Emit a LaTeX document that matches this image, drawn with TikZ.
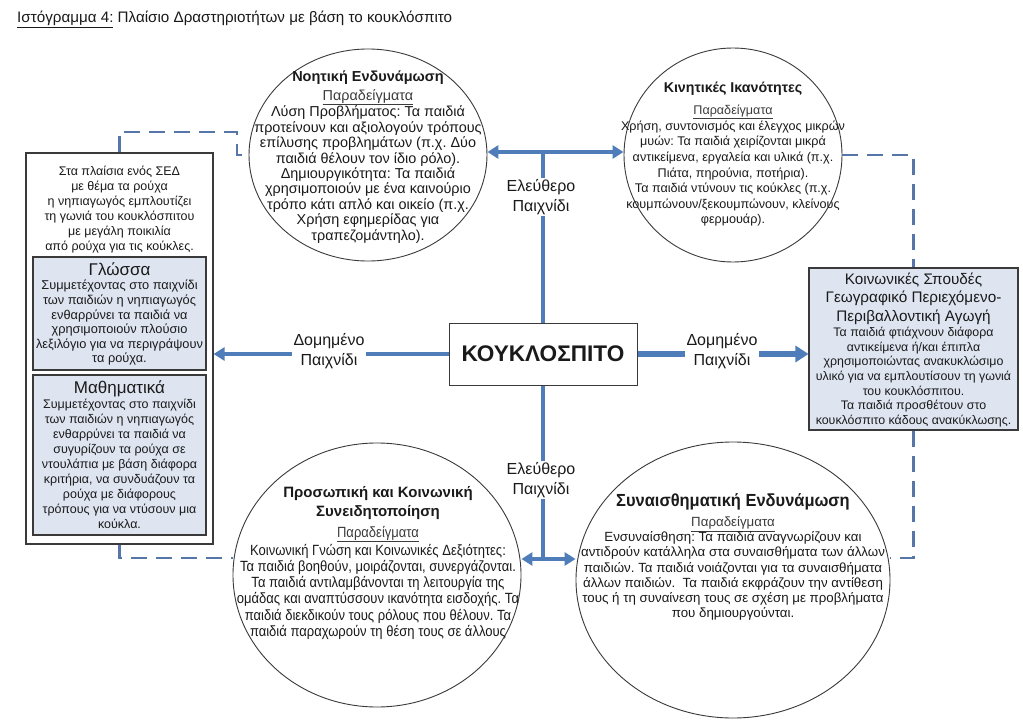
\documentclass[tikz,border=0pt]{standalone}
\usepackage{fontspec}
\setmainfont{Liberation Sans}
\newfontfamily\narrowfont[FakeStretch=0.88]{Liberation Sans}
\newfontfamily\semifont[FakeStretch=0.94]{Liberation Sans}
\usetikzlibrary{arrows.meta,shapes.geometric}
\definecolor{conn}{HTML}{4F7DBA}
\definecolor{dashc}{HTML}{5676AA}
\definecolor{boxfill}{HTML}{DEE5F1}
\definecolor{edge}{HTML}{3A3A3A}
\definecolor{txt}{HTML}{1A1A1A}
\definecolor{sub}{HTML}{3C3C3C}
\newcommand{\exlabel}{{\color{sub}\underline{Παραδείγματα}}}
\frenchspacing
\tikzset{
  circ/.style={ellipse, draw=edge, line width=0.9, inner sep=0},
  bodytext/.style={align=center, text=txt, inner sep=0, font=\fontsize{12.6}{15.3}\selectfont},
  narrowtext/.style={align=center, text=txt, inner sep=0, font=\narrowfont\fontsize{14.8}{16.2}\selectfont},
  lbox/.style={draw=edge, line width=1.1, fill=white, inner sep=0},
  ibox/.style={draw=edge, line width=1.1, fill=boxfill, inner sep=0},
  conline/.style={draw=conn, line width=3.6},
  tip/.style={-{Triangle[length=11,width=13]}},
  dtip/.style={{Triangle[length=11,width=13]}-{Triangle[length=11,width=13]}},
  dashl/.style={draw=dashc, line width=2.6, dash pattern=on 16 off 9},
  lab/.style={fill=white, align=center, inner sep=1.5, text=txt, font=\fontsize{16}{20}\selectfont},
}
\begin{document}
\begin{tikzpicture}[x=1pt,y=-1pt]
\useasboundingbox (0,0) rectangle (1023,725);
\fill[white] (0,0) rectangle (1023,725);

% title
\node[anchor=west, inner sep=0, text=txt, font=\fontsize{15.2}{17}\selectfont] (title) at (17,19)
  {\underline{Ιστόγραμμα 4:} Πλαίσιο Δραστηριοτήτων με βάση το κουκλόσπιτο};

% ellipses
\node[circ, minimum width=238, minimum height=212] (TL) at (368,155) {};
\node[circ, minimum width=218, minimum height=214] (TR) at (733,155) {};
\node[circ, minimum width=288, minimum height=264] (BL) at (377,575) {};
\node[circ, minimum width=314, minimum height=276] (BR) at (733,580) {};

% centre
\node[draw=edge, line width=1, minimum width=188, minimum height=62, inner sep=0,
  font=\bfseries\fontsize{22.6}{26}\selectfont, text=txt] (K) at (543,354) {ΚΟΥΚΛΟΣΠΙΤΟ};

% left box
\node[lbox, minimum width=187, minimum height=391] (LB) at (119.5,348.5) {};
\node[ibox, minimum width=173, minimum height=113] (LG) at (119.5,313.5) {};
\node[ibox, minimum width=173, minimum height=160] (LM) at (119.5,455) {};
\node[bodytext, font=\fontsize{12.5}{15}\selectfont] (LBt) at (119.5,210)
  {Στα πλαίσια ενός ΣΕΔ\\με θέμα τα ρούχα\\η νηπιαγωγός εμπλουτίζει\\τη γωνιά του κουκλόσπιτου\\με μεγάλη ποικιλία\\από ρούχα για τις κούκλες.};
\node[bodytext, font=\fontsize{12.8}{14.6}\selectfont] (LGt) at (119.5,314)
  {{\fontsize{17}{18}\selectfont Γλώσσα}\\Συμμετέχοντας στο παιχνίδι\\των παιδιών η νηπιαγωγός\\ενθαρρύνει τα παιδιά να\\χρησιμοποιούν πλούσιο\\λεξιλόγιο για να περιγράψουν\\τα ρούχα.};
\node[bodytext, font=\fontsize{12.5}{15}\selectfont] (LMt) at (119.5,455)
  {{\fontsize{17}{18}\selectfont Μαθηματικά}\\Συμμετέχοντας στο παιχνίδι\\των παιδιών η νηπιαγωγός\\ενθαρρύνει τα παιδιά να\\συγυρίζουν τα ρούχα σε\\ντουλάπια με βάση διάφορα\\κριτήρια, να συνδυάζουν τα\\ρούχα με διάφορους\\τρόπους για να ντύσουν μια\\κούκλα.};

% right box
\node[ibox, minimum width=209, minimum height=162] (RB) at (913.5,349) {};
\node[bodytext, font=\fontsize{12.4}{14.6}\selectfont] (RBt) at (913.5,350)
  {{\fontsize{15.3}{18}\selectfont Κοινωνικές Σπουδές}\\[3pt]{\fontsize{15.3}{18}\selectfont Γεωγραφικό Περιεχόμενο-}\\[3pt]{\fontsize{15.3}{18}\selectfont Περιβαλλοντική Αγωγή}\\[1pt]Τα παιδιά φτιάχνουν διάφορα\\αντικείμενα ή/και έπιπλα\\χρησιμοποιώντας ανακυκλώσιμο\\υλικό για να εμπλουτίσουν τη γωνιά\\του κουκλόσπιτου.\\Τα παιδιά προσθέτουν στο\\κουκλόσπιτο κάδους ανακύκλωσης.};

% circle texts
\node[bodytext, font=\fontsize{14.4}{15.4}\selectfont] (TLt) at (368,157)
  {{\bfseries\fontsize{14.5}{17}\selectfont Νοητική Ενδυνάμωση}\\[3pt]\exlabel\\Λύση Προβλήματος: Τα παιδιά\\προτείνουν και αξιολογούν τρόπους\\επίλυσης προβλημάτων (π.χ. Δύο\\παιδιά θέλουν τον ίδιο ρόλο).\\Δημιουργικότητα: Τα παιδιά\\χρησιμοποιούν με ένα καινούριο\\τρόπο κάτι απλό και οικείο (π.χ.\\Χρήση εφημερίδας για\\τραπεζομάντηλο).};
\node[bodytext, font=\fontsize{12.6}{15.6}\selectfont] (TRt) at (733,154)
  {{\bfseries\fontsize{14.2}{17}\selectfont Κινητικές Ικανότητες}\\[7pt]\exlabel\\Χρήση, συντονισμός και έλεγχος μικρών\\μυών: Τα παιδιά χειρίζονται μικρά\\αντικείμενα, εργαλεία και υλικά (π.χ.\\Πιάτα, πηρούνια, ποτήρια).\\Τα παιδιά ντύνουν τις κούκλες (π.χ.\\κουμπώνουν/ξεκουμπώνουν, κλείνους\\φερμουάρ).};
\node[narrowtext] (BLt) at (378,563)
  {{\rmfamily\bfseries\fontsize{15}{19}\selectfont Προσωπική και Κοινωνική}\\[3pt]{\rmfamily\bfseries\fontsize{15}{19}\selectfont Συνειδητοποίηση}\\[4pt]\exlabel\\[1pt]Κοινωνική Γνώση και Κοινωνικές Δεξιότητες:\\Τα παιδιά βοηθούν, μοιράζονται, συνεργάζονται.\\Τα παιδιά αντιλαμβάνονται τη λειτουργία της\\ομάδας και αναπτύσσουν ικανότητα εισδοχής. Τα\\παιδιά διεκδικούν τους ρόλους που θέλουν. Τα\\παιδιά παραχωρούν τη θέση τους σε άλλους};
\node[narrowtext, font=\fontsize{13.3}{15.2}\selectfont] (BRt) at (733,557)
  {{\semifont\bfseries\fontsize{17.5}{19}\selectfont Συναισθηματική Ενδυνάμωση}\\[5pt]\exlabel\\Ενσυναίσθηση: Τα παιδιά αναγνωρίζουν και\\αντιδρούν κατάλληλα στα συναισθήματα των άλλων\\παιδιών. Τα παιδιά νοιάζονται για τα συναισθήματα\\άλλων παιδιών.\ \ Τα παιδιά εκφράζουν την αντίθεση\\τους ή τη συναίνεση τους σε σχέση με προβλήματα\\που δημιουργούνται.};

% solid connectors
\coordinate (tj) at (543,152);
\coordinate (bj) at (543,559);
\draw[conline] (K.north) -- (tj);
\draw[conline, dtip] (tj -| TL.east) -- (tj -| TR.west);
\draw[conline] (K.south) -- (bj);
\draw[conline, dtip] (bj -| BL.east) -- (bj -| BR.west);
\draw[conline, line width=3.8, tip] (K.west) -- (K.west -| LB.east);
\draw[conline, line width=6, -{Triangle[length=13,width=16]}] (K.east) -- (K.east -| RB.west);

% labels on connectors
\node[lab] (F1) at (541,197) {Ελεύθερο\\Παιχνίδι};
\node[lab] (F2) at (541,480) {Ελεύθερο\\Παιχνίδι};
\node[lab] (S1) at (329,351) {Δομημένο\\Παιχνίδι};
\node[lab] (S2) at (722,351) {Δομημένο\\Παιχνίδι};

% dashed connectors
\coordinate (d1) at (237,132);
\coordinate (d3) at (913.5,558);
\coordinate (d4) at (119.5,558);
\draw[dashl] (LB.north) |- (d1) |- (TL.west);
\draw[dashl] (TR.east) -| (RB.north);
\draw[dashl] (RB.south) -- (d3) -- (d3 -| BR.east);
\draw[dashl] (LB.south) -- (d4) -- (d4 -| BL.west);
\end{tikzpicture}
\end{document}
